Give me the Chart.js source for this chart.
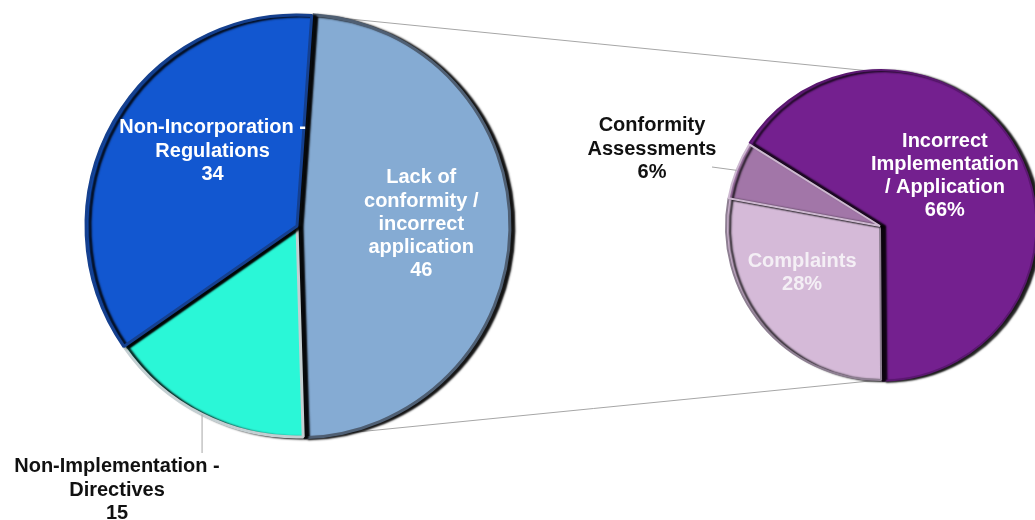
<!DOCTYPE html>
<html>
<head>
<meta charset="utf-8">
<script src="https://cdn.jsdelivr.net/npm/chart.js@4.4.1/dist/chart.umd.min.js"></script>
<style>
  body { margin: 0; background: #fff; }
  #wrap { position: relative; width: 1035px; height: 520px; overflow: hidden; }
  #wrap canvas { position: absolute; top: 0; }
  #mainPie { left: 0; }
  #subPie { left: 560px; }
</style>
</head>
<body>
<div id="wrap">
  <canvas id="mainPie" width="1035" height="520"></canvas>
  <canvas id="subPie" width="475" height="520"></canvas>
</div>
<script>
// main pie (counts)
const mainLabels = ['Lack of conformity / incorrect application', 'Non-Implementation - Directives', 'Non-Incorporation - Regulations'];
const mainValues = [46, 15, 34];
const mainText = [
    ['Lack of', 'conformity /', 'incorrect', 'application'],
    ['Non-Implementation -', 'Directives'],
    ['Non-Incorporation -', 'Regulations']
];
const mainColors = ['#85abd3', '#2af7d7', '#1257d0'];
const mainBorders = ['#4f5f73', '#c4cfd2', '#15408f'];

// breakdown of the "lack of conformity" slice (percent)
const subLabels = ['Incorrect Implementation / Application', 'Complaints', 'Conformity Assessments'];
const subValues = [66, 28, 6];
const subText = [
    ['Incorrect', 'Implementation', '/ Application'],
    ['Complaints'],
    ['Conformity', 'Assessments']
];
const subColors = ['#74208f', '#d5bad8', '#a276a8'];
const subBorders = ['#5a1770', '#8e7f92', '#cdb8d0'];

const SUB_LEFT = 560;   // left of the second canvas on the page
const LABEL_FONT = 'bold 20px "Liberation Sans", Arial, sans-serif';
const LINE_H = 23.3;

// where each label goes: inside ones along the slice middle, outside ones with a leader
const mainPlace = [
    { frac: 0.57, shift: -2, color: '#ffffff' },
    { outside: true, leaderEndY: 453, textX: 117, textY: 490, align: 'center', color: '#111111' },
    { frac: 0.535, shift: 12, color: '#ffffff' }
];
const subPlace = [
    { frac: 0.5, shift: -9, color: '#ffffff' },
    { frac: 0.59, shift: 9, color: '#f4eff5' },
    { outside: true, leaderEnd: [712, 167], textX: 652, textY: 149, align: 'center', color: '#111111' }
];

function drawLines(ctx, lines, x, y, align, color) {
    ctx.save();
    ctx.font = LABEL_FONT;
    ctx.fillStyle = color;
    ctx.textAlign = align;
    ctx.textBaseline = 'middle';
    const top = y - (lines.length - 1) * LINE_H / 2;
    lines.forEach((t, i) => ctx.fillText(t, x, top + i * LINE_H));
    ctx.restore();
}

// arc center including the explode offset
function arcCenter(arc) {
    const mid = (arc.startAngle + arc.endAngle) / 2;
    const off = arc.options.offset || 0;
    return { x: arc.x + Math.cos(mid) * off, y: arc.y + Math.sin(mid) * off, mid: mid };
}

// bevel-ish dark edge on the right side of each slice
const shadowPlugin = {
    id: 'sliceShadow',
    beforeDatasetDraw(chart) {
        const ctx = chart.ctx;
        ctx.save();
        ctx.shadowColor = 'rgba(0,0,0,0.9)';
        ctx.shadowOffsetX = 4;
        ctx.shadowOffsetY = 1;
        ctx.shadowBlur = 2;
    },
    afterDatasetDraw(chart) {
        chart.ctx.restore();
    }
};

function labelPlugin(texts, values, place, suffix, shiftX) {
    return {
        id: 'sliceLabels',
        afterDatasetsDraw(chart) {
            const ctx = chart.ctx;
            const arcs = chart.getDatasetMeta(0).data;
            arcs.forEach((arc, i) => {
                const p = place[i];
                const lines = texts[i].concat([values[i] + suffix]);
                const c = arcCenter(arc);
                if (p.outside) {
                    const edge = {
                        x: c.x + Math.cos(c.mid) * arc.outerRadius,
                        y: c.y + Math.sin(c.mid) * arc.outerRadius
                    };
                    const end = p.leaderEnd ? { x: p.leaderEnd[0] - shiftX, y: p.leaderEnd[1] } : { x: edge.x, y: p.leaderEndY };
                    ctx.save();
                    ctx.strokeStyle = '#a6a6a6';
                    ctx.lineWidth = 1;
                    ctx.beginPath();
                    ctx.moveTo(edge.x, edge.y);
                    ctx.lineTo(end.x, end.y);
                    ctx.stroke();
                    ctx.restore();
                    drawLines(ctx, lines, p.textX - shiftX, p.textY, p.align, p.color);
                } else {
                    const a = c.mid + p.shift * Math.PI / 180;
                    const r = arc.outerRadius * p.frac;
                    drawLines(ctx, lines, c.x + Math.cos(a) * r, c.y + Math.sin(a) * r, 'center', p.color);
                }
            });
        }
    };
}

const baseOptions = {
    responsive: false,
    animation: false,
    events: [],
    plugins: { legend: { display: false }, tooltip: { enabled: false } }
};

const subChart = new Chart(document.getElementById('subPie'), {
    type: 'pie',
    data: {
        labels: subLabels,
        datasets: [{
            data: subValues,
            backgroundColor: subColors,
            borderColor: subBorders,
            borderWidth: 2,
            offset: [5, 0, 0]
        }]
    },
    options: Object.assign({}, baseOptions, {
        rotation: -58,
        radius: 154,
        layout: { padding: { left: 165, right: 0, top: 0, bottom: 68 } }
    }),
    plugins: [shadowPlugin, labelPlugin(subText, subValues, subPlace, '%', SUB_LEFT)]
});

// lines joining the "lack of conformity" slice to the second pie
const connectorPlugin = {
    id: 'connectors',
    beforeDatasetsDraw(chart) {
        const arc = chart.getDatasetMeta(0).data[0];
        const c = arcCenter(arc);
        const r = arc.outerRadius;
        const sub = subChart.getDatasetMeta(0).data[1];
        const sx = sub.x + SUB_LEFT;
        const sr = sub.outerRadius;
        const ctx = chart.ctx;
        ctx.save();
        ctx.strokeStyle = '#a6a6a6';
        ctx.lineWidth = 1;
        ctx.beginPath();
        ctx.moveTo(c.x + Math.cos(arc.startAngle) * r, c.y + Math.sin(arc.startAngle) * r);
        ctx.lineTo(sx, sub.y - sr);
        ctx.moveTo(c.x + Math.cos(arc.endAngle) * r, c.y + Math.sin(arc.endAngle) * r);
        ctx.lineTo(sx, sub.y + sr);
        ctx.stroke();
        ctx.restore();
    }
};

new Chart(document.getElementById('mainPie'), {
    type: 'pie',
    data: {
        labels: mainLabels,
        datasets: [{
            data: mainValues,
            backgroundColor: mainColors,
            borderColor: mainBorders,
            borderWidth: 3,
            offset: [4, 0, 0]
        }]
    },
    options: Object.assign({}, baseOptions, {
        rotation: 4,
        radius: 211,
        layout: { padding: { left: 0, right: 441, top: 0, bottom: 68 } }
    }),
    plugins: [connectorPlugin, shadowPlugin, labelPlugin(mainText, mainValues, mainPlace, '', 0)]
});
</script>
</body>
</html>
